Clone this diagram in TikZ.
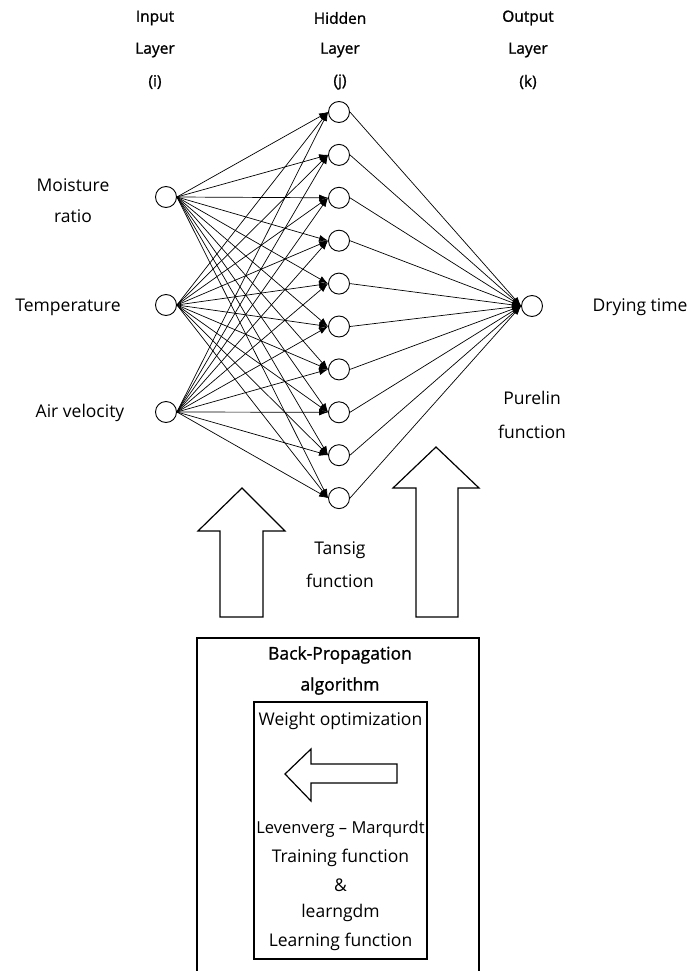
\documentclass[tikz,border=0pt]{standalone}
\usepackage{fontspec}
\setmainfont{Open Sans}
\newfontfamily\hdrfont{Open Sans}[FakeBold=1.2]
\usetikzlibrary{arrows.meta}
\begin{document}
\begin{tikzpicture}[x=1pt,y=-1pt,
  neuron/.style={circle,draw,line width=0.9pt,minimum size=21pt,inner sep=0pt,fill=white},
  conn/.style={line width=0.7pt,-{Latex[length=9pt,width=6.5pt]}},
  lbl/.style={font=\fontsize{17.5}{20}\selectfont,inner sep=0pt},
  hdr/.style={font=\hdrfont\fontsize{15.5}{18}\selectfont,inner sep=0pt},
  bphdr/.style={font=\hdrfont\fontsize{17.5}{20}\selectfont,inner sep=0pt},
  bigarrow/.style={draw,line width=1.2pt,fill=white,line join=miter}]
\useasboundingbox (0,0) rectangle (700,971);
% headers
\node[hdr] (hi1) at (155,18) {Input};
\node[hdr] (hi2) at (155,50) {Layer};
\node[hdr] (hi3) at (155,82) {(i)};
\node[hdr] (hh1) at (340,18) {Hidden};
\node[hdr] (hh2) at (340,50) {Layer};
\node[hdr] (hh3) at (340,82) {(j)};
\node[hdr] (ho1) at (528,18) {Output};
\node[hdr] (ho2) at (528,50) {Layer};
\node[hdr] (ho3) at (528,82) {(k)};
% input labels
\node[lbl] (lm1) at (73,185) {Moisture};
\node[lbl] (lm2) at (73,216) {ratio};
\node[lbl] (lt) at (68,307) {Temperature};
\node[lbl] (la) at (80,413) {Air velocity};
\node[lbl] (ld) at (640,307) {Drying time};
\node[lbl] (lp1) at (532,398) {Purelin};
\node[lbl] (lp2) at (532,432) {function};
\node[lbl] (lt1) at (340,550) {Tansig};
\node[lbl] (lt2) at (340,581) {function};
% neurons
\node[neuron] (i1) at (166,197) {};
\node[neuron] (i2) at (166,305) {};
\node[neuron] (i3) at (166,412) {};
\foreach \k in {0,...,9} \node[neuron] (h\k) at (339,{112+42.9*\k}) {};
\node[neuron] (o) at (532,306) {};
% connectors
\foreach \i in {1,2,3} \foreach \k in {0,...,9} \draw[conn] (i\i.east) -- (h\k.west);
\foreach \k in {0,...,9} \draw[conn] (h\k.east) -- (o.west);
% big up arrows
\draw[bigarrow] (242,488) -- (285,531) -- (263,531) -- (263,617) -- (220,617) -- (220,531) -- (198,531) -- cycle;
\draw[bigarrow] (436,447) -- (479,488) -- (458,488) -- (458,617) -- (416,617) -- (416,488) -- (393,488) -- cycle;
% back-propagation box
\coordinate (bl) at (197,975);
\coordinate (br) at (479,975);
\draw[line width=1.2pt] (bl) |- (338,638) -| (br);
\node[bphdr] (bp1) at (340,655) {Back-Propagation};
\node[bphdr] (bp2) at (340,686) {algorithm};
\node[draw,line width=1.2pt,minimum width=173pt,minimum height=257pt,inner sep=0pt] (inner) at (340.5,830.5) {};
\node[lbl] (w) at (340.5,721) {Weight optimization};
\draw[bigarrow] (285,774) -- (311,749) -- (311,764) -- (397,764) -- (397,783) -- (311,783) -- (311,801) -- cycle;
\node[lbl,font=\fontsize{16.5}{19}\selectfont] (t1) at (340.5,829) {Levenverg -- Marqurdt};
\node[lbl] (t2) at (340.5,858) {Training function};
\node[lbl] (t3) at (340.5,885) {\&};
\node[lbl] (t4) at (340.5,913) {learngdm};
\node[lbl] (t5) at (340.5,942) {Learning function};
\end{tikzpicture}
\end{document}
